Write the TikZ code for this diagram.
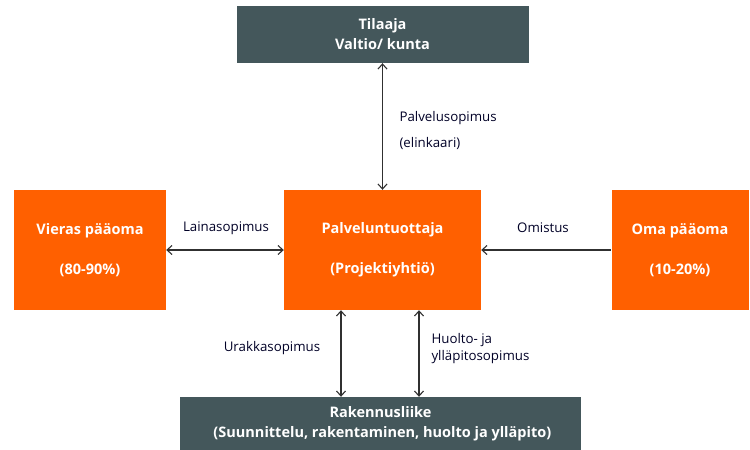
\documentclass[tikz,border=0pt]{standalone}
\usepackage{fontspec}
\setmainfont{Open Sans}
\usetikzlibrary{arrows.meta}
\definecolor{slate}{HTML}{44575B}
\definecolor{tangerine}{HTML}{FF6000}
\definecolor{linegray}{HTML}{303030}
\tikzset{
  darkbox/.style={fill=slate, text=white, font=\bfseries\fontsize{14.5}{20}\selectfont,
    align=center, inner sep=0pt},
  orangebox/.style={fill=tangerine, text=white, font=\bfseries\fontsize{14.5}{18}\selectfont,
    align=center, inner sep=0pt, minimum height=120pt},
  deal/.style={font=\fontsize{13.3}{16}\selectfont, text=black!85!blue},
  link/.style={linegray, line width=1.1pt, {Straight Barb[length=5pt,width=9pt]}-{Straight Barb[length=5pt,width=9pt]}},
}
\begin{document}
\begin{tikzpicture}[x=1pt, y=-1pt]
%% 1 unit = 1 px of the 750 x 450 layout
\useasboundingbox (0,0) rectangle (750,450);

%% ---- Boxes ----
\node[darkbox, minimum width=292pt, minimum height=57pt] (tilaaja) at (382.5,34.5)
  {Tilaaja\\Valtio/ kunta};

\node[orangebox, minimum width=152pt] (vieras) at (90,250)
  {Vieras pääoma\\[22pt](80-90\%)};

\node[orangebox, minimum width=197pt] (tuottaja) at (382.5,250)
  {Palveluntuottaja\\[22pt](Projektiyhtiö)};

\node[orangebox, minimum width=137pt] (oma) at (680,250)
  {Oma pääoma\\[22pt](10-20\%)};

\node[darkbox, minimum width=401pt, minimum height=53pt] (rakennus) at (380.5,423.5)
  {Rakennusliike\\\ (Suunnittelu, rakentaminen, huolto ja ylläpito)};

%% ---- Connectors ----
\draw[link] (tilaaja.south) -- (tuottaja.north);
\draw[link] (vieras.east) -- (tuottaja.west);
\draw[link, {Straight Barb[length=5pt,width=9pt]}-] (tuottaja.east) -- (oma.west);
\draw[link] ([xshift=-41.5pt]tuottaja.south) -- ([xshift=-41.5pt]tuottaja.south |- rakennus.north);
\draw[link] ([xshift=36.5pt]tuottaja.south) -- ([xshift=36.5pt]tuottaja.south |- rakennus.north);

%% ---- Labels ----
\node[deal, right] (palvelu) at (396,118) {Palvelusopimus};
\node[deal, right] (elinkaari) at (396,143) {(elinkaari)};
\node[deal] (laina) at (226,228) {Lainasopimus};
\node[deal] (omistus) at (543,228) {Omistus};
\node[deal] (urakka) at (272,348) {Urakkasopimus};
\node[deal, right] (huolto) at (428,340) {Huolto- ja};
\node[deal, right] (yllapito) at (428,357) {ylläpitosopimus};
\end{tikzpicture}
\end{document}
